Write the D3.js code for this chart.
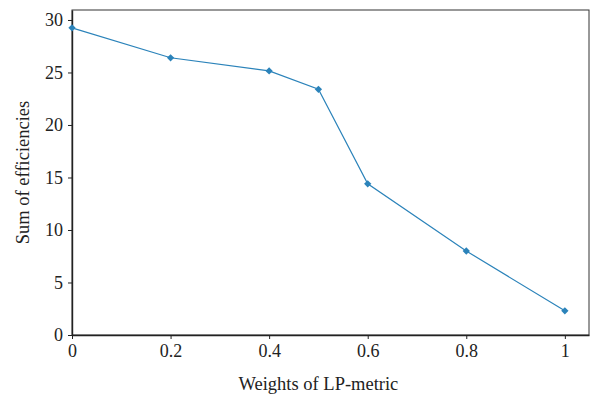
<!DOCTYPE html>
<html>
<head>
<meta charset="utf-8">
<script src="https://cdn.jsdelivr.net/npm/d3@7"></script>
<style>
  body { margin: 0; background: #fff; }
  svg { display: block; }
  svg text { font-family: "Liberation Serif", "DejaVu Serif", serif; fill: #222; }
</style>
</head>
<body>
<div id="chart"></div>
<script>
const weights = [0, 0.2, 0.4, 0.5, 0.6, 0.8, 1];
const efficiencies = [29.25, 26.4, 25.15, 23.4, 14.4, 8.0, 2.3];
const xTicks = [0, 0.2, 0.4, 0.6, 0.8, 1];
const yTicks = [0, 5, 10, 15, 20, 25, 30];

const W = 590, H = 399;
const margin = { top: 10, right: 1, bottom: 64, left: 72 };
const width = W - margin.left - margin.right;
const height = H - margin.top - margin.bottom;

const svg = d3.select("#chart").append("svg")
  .attr("width", W)
  .attr("height", H);
const g = svg.append("g")
  .attr("transform", `translate(${margin.left},${margin.top})`);

const x = d3.scaleLinear().domain([0, 1.049]).range([0, width]);
const y = d3.scaleLinear().domain([0, 30.95]).range([height, 0]);

// frame
g.append("rect")
  .attr("x", 0).attr("y", 0)
  .attr("width", width).attr("height", height)
  .attr("fill", "none")
  .attr("stroke", "#333")
  .attr("stroke-width", 1);

// X axis
const xAxis = g.append("g")
  .attr("transform", `translate(0,${height})`)
  .call(d3.axisBottom(x).tickValues(xTicks).tickFormat(d => String(d)).tickSize(4).tickPadding(5).tickSizeOuter(0));
xAxis.attr("font-family", null).attr("font-size", 18);
xAxis.select(".domain").attr("stroke", "#222").attr("stroke-width", 1.4);
xAxis.selectAll("line").attr("stroke", "#222");

// Y axis
const yAxis = g.append("g")
  .call(d3.axisLeft(y).tickValues(yTicks).tickSize(4).tickPadding(5).tickSizeOuter(0));
yAxis.attr("font-family", null).attr("font-size", 18);
yAxis.select(".domain").attr("stroke", "#222").attr("stroke-width", 1.4);
yAxis.selectAll("line").attr("stroke", "#222");

// labels
svg.append("text")
  .attr("x", margin.left + x(0.5))
  .attr("y", 390)
  .attr("text-anchor", "middle")
  .attr("font-size", 18.5)
  .text("Weights of LP-metric");

svg.append("text")
  .attr("transform", `translate(29,${margin.top + height / 2}) rotate(-90)`)
  .attr("text-anchor", "middle")
  .attr("font-size", 18.5)
  .text("Sum of efficiencies");

// line
const data = weights.map((w, i) => [w, efficiencies[i]]);
const color = "#2b83ba";
g.append("path")
  .datum(data)
  .attr("fill", "none")
  .attr("stroke", color)
  .attr("stroke-width", 1.2)
  .attr("d", d3.line().x(d => x(d[0])).y(d => y(d[1])));

g.selectAll(".pt")
  .data(data)
  .join("path")
  .attr("class", "pt")
  .attr("transform", d => `translate(${x(d[0])},${y(d[1])})`)
  .attr("d", d3.symbol(d3.symbolDiamond2, 34))
  .attr("fill", color);
</script>
</body>
</html>
